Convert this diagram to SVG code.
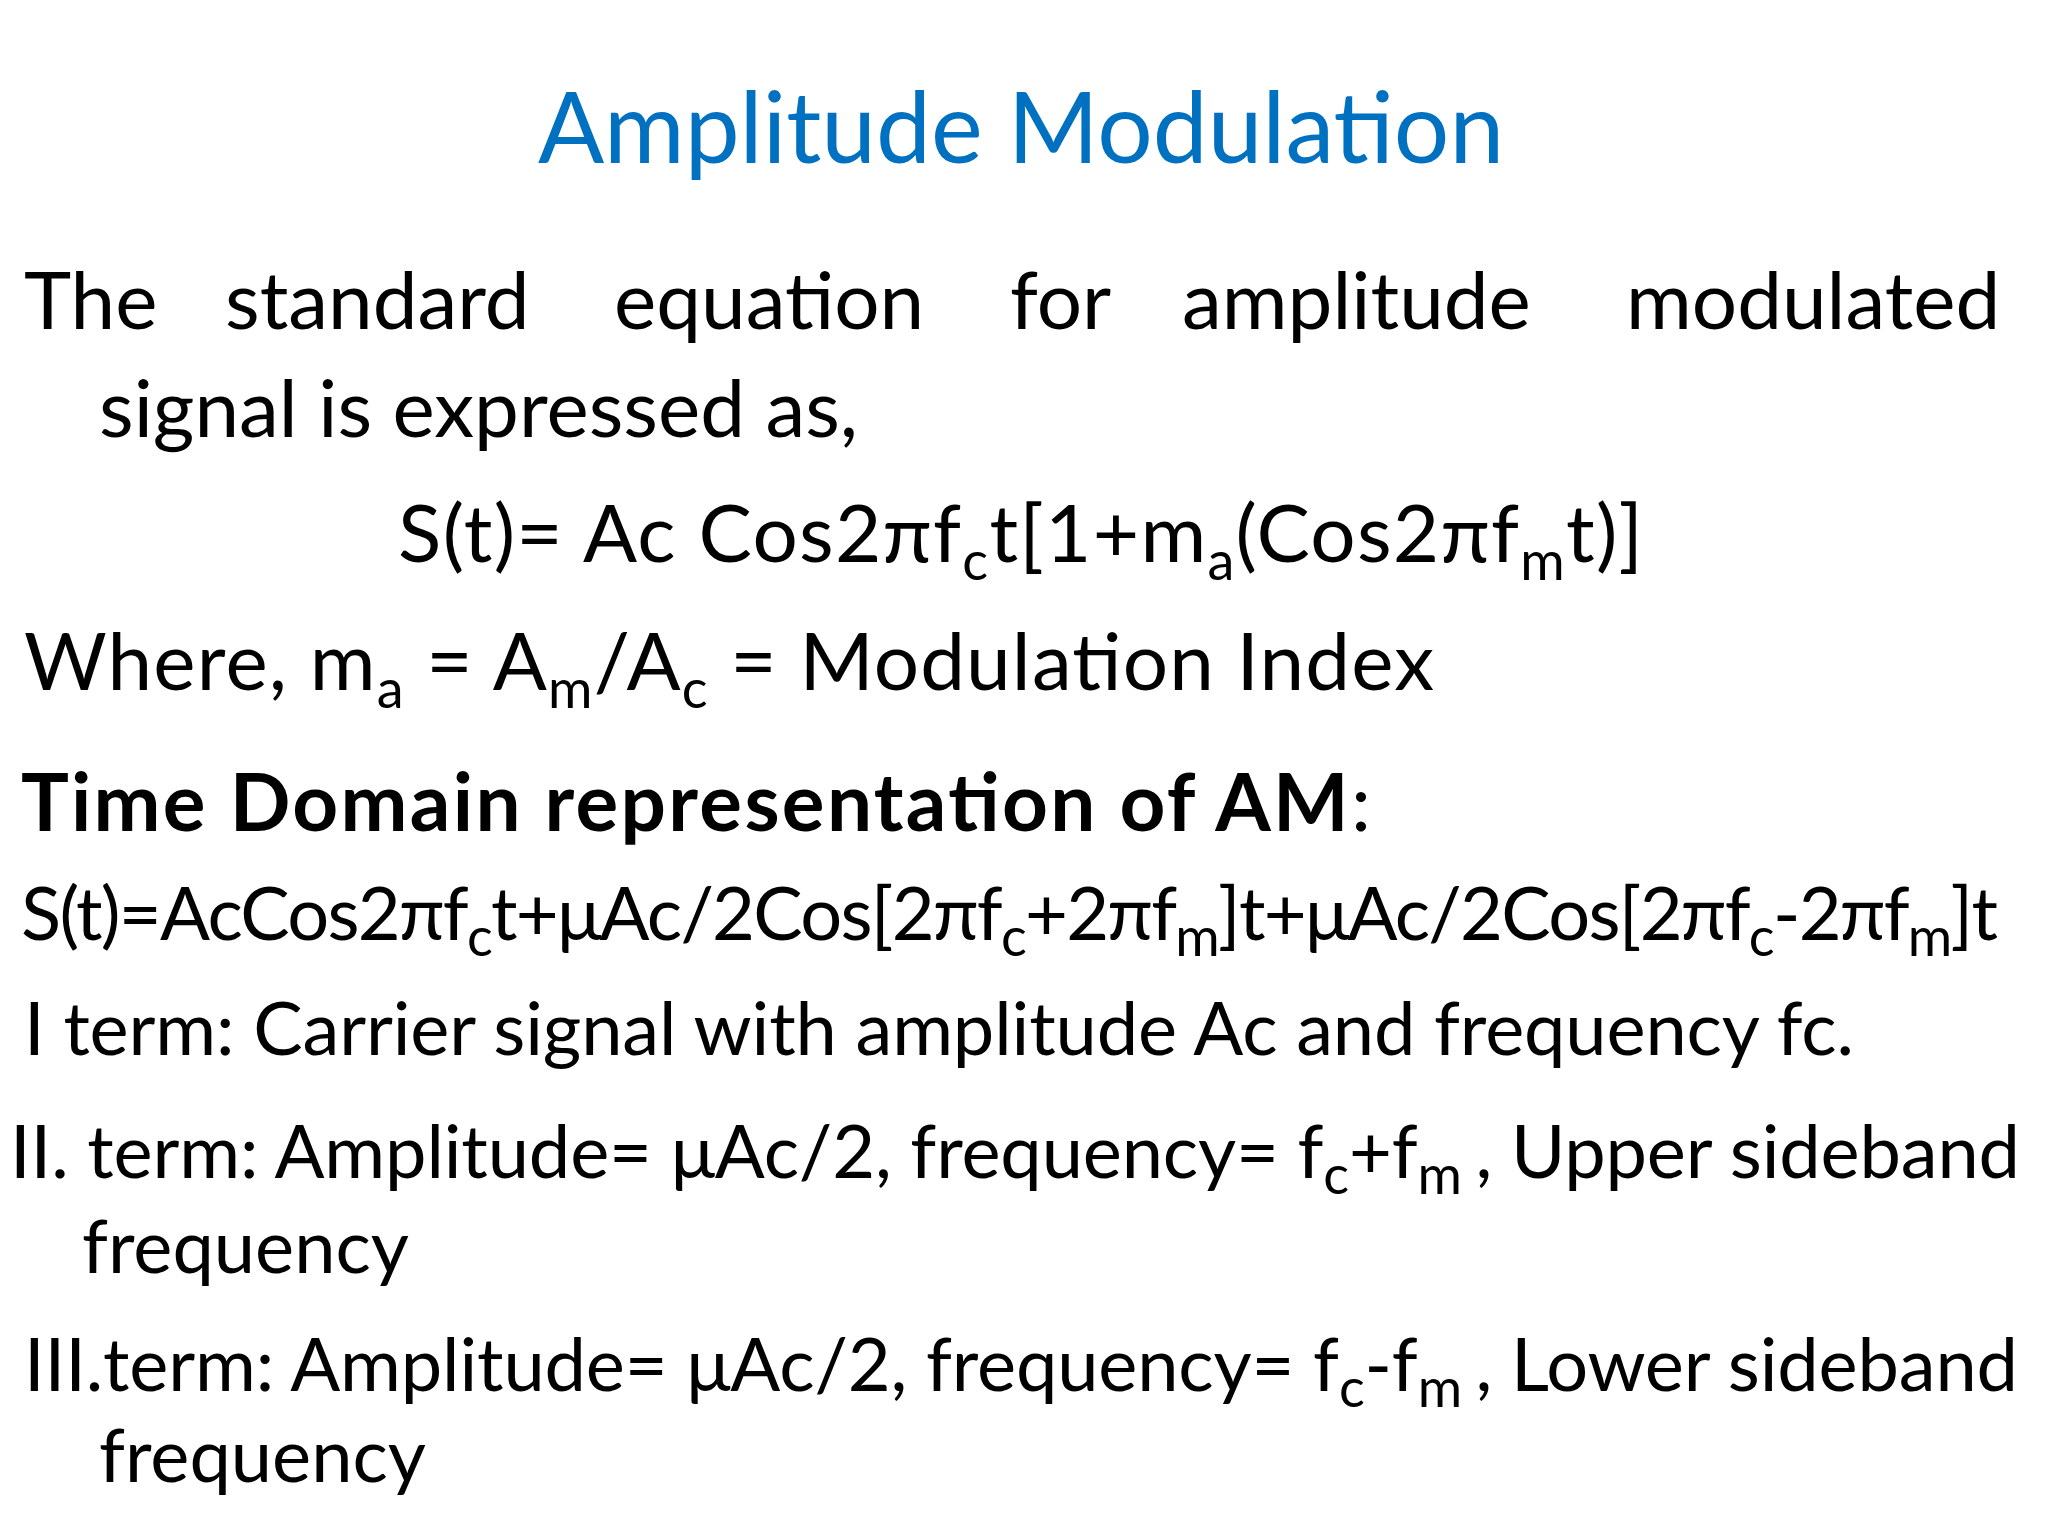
<svg xmlns="http://www.w3.org/2000/svg" width="2048" height="1536" viewBox="0 0 2048 1536">
<style>
text{font-family:Lato,"Open Sans","Liberation Sans",sans-serif;fill:#000;font-size:80px}
.t{fill:#0070C0;font-size:98px}
.s{font-size:54px}
.m{font-size:74px}
</style>
<rect width="2048" height="1536" fill="#fff"/>
<g id="title"><text class="t" x="1021" y="163" text-anchor="middle">Amplitude Modulation</text></g>
<g id="intro">
<text y="329"><tspan x="24">The</tspan><tspan x="225">standard</tspan><tspan x="614">equation</tspan><tspan x="1010">for</tspan><tspan x="1182">amplitude</tspan><tspan x="1626">modulated</tspan></text>
<text x="99" y="437">signal is expressed as,</text>
<text x="398" y="562" textLength="1245">S(t)= Ac Cos2πf<tspan class="s" dy="18">c</tspan><tspan dy="-18">t[1+m</tspan><tspan class="s" dy="18">a</tspan><tspan dy="-18">(Cos2πf</tspan><tspan class="s" dy="18">m</tspan><tspan dy="-18">t)]</tspan></text>
<text x="24" y="690" textLength="1410">Where, m<tspan class="s" dy="18">a</tspan><tspan dy="-18"> = A</tspan><tspan class="s" dy="18">m</tspan><tspan dy="-18">/A</tspan><tspan class="s" dy="18">c</tspan><tspan dy="-18"> = Modulation Index</tspan></text>
</g>
<g id="time">
<text x="21" y="831" font-weight="bold" textLength="1350">Time Domain representation of AM<tspan font-weight="normal">:</tspan></text>
<text class="m" x="21" y="940" textLength="1977">S(t)=AcCos2πf<tspan class="s" dy="16">c</tspan><tspan dy="-16">t+μAc/2Cos[2πf</tspan><tspan class="s" dy="16">c</tspan><tspan dy="-16">+2πf</tspan><tspan class="s" dy="16">m</tspan><tspan dy="-16">]t+μAc/2Cos[2πf</tspan><tspan class="s" dy="16">c</tspan><tspan dy="-16">-2πf</tspan><tspan class="s" dy="16">m</tspan><tspan dy="-16">]t</tspan></text>
<text class="m" x="24" y="1055" textLength="1830">I term: Carrier signal with amplitude Ac and frequency fc.</text>
<text class="m" x="10" y="1178" textLength="2010">II. term: Amplitude= μAc/2, frequency= f<tspan class="s" dy="16">c</tspan><tspan dy="-16">+f</tspan><tspan class="s" dy="16">m </tspan><tspan dy="-16">, Upper sideband</tspan></text>
<text class="m" x="82" y="1273">frequency</text>
<text class="m" x="24" y="1391" textLength="1994">III.term: Amplitude= μAc/2, frequency= f<tspan class="s" dy="16">c</tspan><tspan dy="-16">-f</tspan><tspan class="s" dy="16">m </tspan><tspan dy="-16">, Lower sideband</tspan></text>
<text class="m" x="99" y="1482">frequency</text>
</g>
</svg>
